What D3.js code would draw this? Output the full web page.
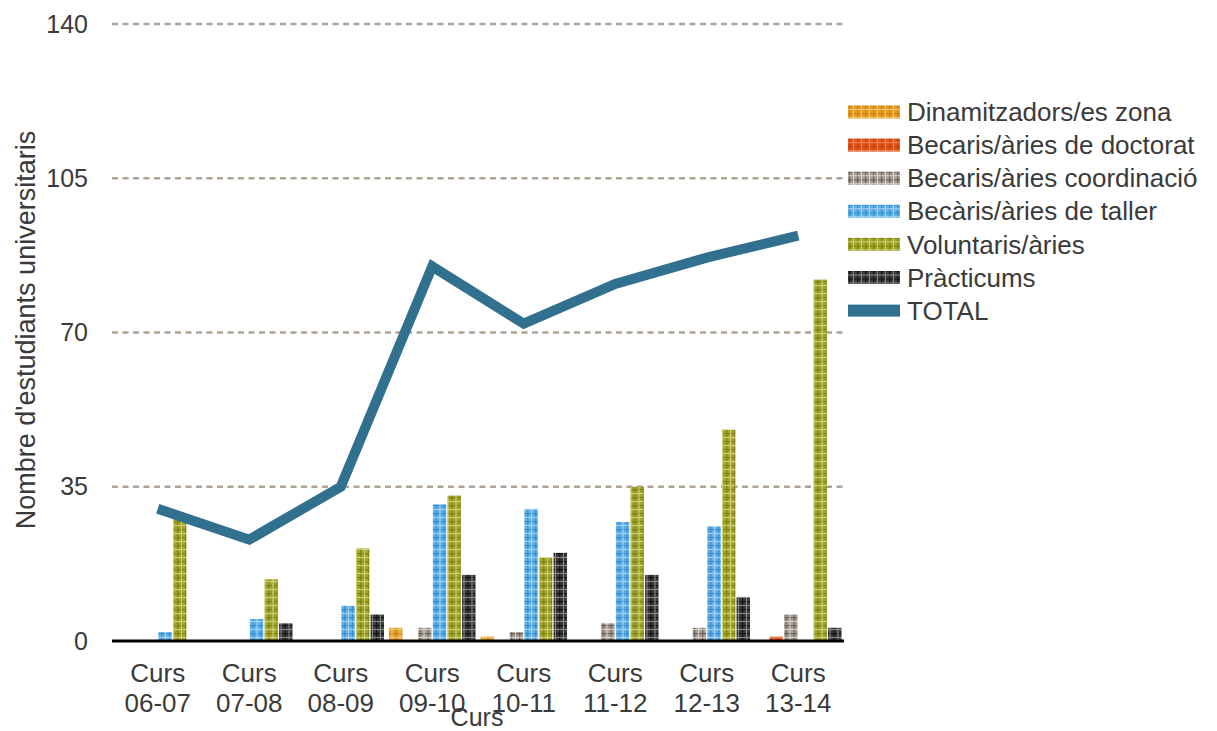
<!DOCTYPE html>
<html>
<head>
<meta charset="utf-8">
<script src="https://cdn.jsdelivr.net/npm/d3@7"></script>
<style>
    body { margin: 0; background: #fff; }
    svg text { font-family: "Liberation Sans", Arial, sans-serif; fill: #3a3a3a; }
</style>
</head>
<body>
<svg id="chart" width="1217" height="731"></svg>
<script>
var cursos = ["Curs 06-07", "Curs 07-08", "Curs 08-09", "Curs 09-10", "Curs 10-11", "Curs 11-12", "Curs 12-13", "Curs 13-14"];
var seriesNames = ["Dinamitzadors/es zona", "Becaris/àries de doctorat", "Becaris/àries coordinació", "Becàris/àries de taller", "Voluntaris/àries", "Pràcticums"];
var dinamitzadors = [0, 0, 0, 3, 1, 0, 0, 0];
var doctorat = [0, 0, 0, 0, 0, 0, 0, 1];
var coordinacio = [0, 0, 0, 3, 2, 4, 3, 6];
var taller = [2, 5, 8, 31, 30, 27, 26, 0];
var voluntaris = [28, 14, 21, 33, 19, 35, 48, 82];
var practicums = [0, 4, 6, 15, 20, 15, 10, 3];
var total = [30, 23, 35, 85, 72, 81, 87, 92];
var yTicks = [0, 35, 70, 105, 140];

var seriesValues = [dinamitzadors, doctorat, coordinacio, taller, voluntaris, practicums];
// base colour, line colour, light colour for the plaid texture
var seriesColors = [
    ["#e6a12a", "#c98410", "#f3c470"],
    ["#e2581c", "#c04010", "#f08a5a"],
    ["#a9a097", "#6e665e", "#d6d0ca"],
    ["#62b2e6", "#3590d6", "#a8d4f2"],
    ["#a4a832", "#82860e", "#cfd27a"],
    ["#3c3c3c", "#151515", "#8a8a8a"]
];
var totalColor = "#31708f";

var svg = d3.select("#chart");
var plotLeft = 112, plotRight = 844, plotTop = 24, plotBottom = 641;

var x0 = d3.scaleBand().domain(cursos).range([plotLeft, plotRight]).paddingInner(0).paddingOuter(0);
var x1 = d3.scaleBand().domain(d3.range(seriesNames.length)).range([2.5, x0.bandwidth() - 2.5]).paddingInner(0.08).paddingOuter(0);
var y = d3.scaleLinear().domain([0, 140]).range([plotBottom, plotTop]);

// plaid patterns
var defs = svg.append("defs");
seriesColors.forEach(function (c, i) {
    var p = defs.append("pattern").attr("id", "pat" + i)
        .attr("patternUnits", "userSpaceOnUse").attr("width", 8).attr("height", 8);
    p.append("rect").attr("width", 8).attr("height", 8).attr("fill", c[0]);
    p.append("rect").attr("x", 0).attr("y", 1).attr("width", 8).attr("height", 1.3).attr("fill", c[1]);
    p.append("rect").attr("x", 1).attr("y", 0).attr("width", 1.3).attr("height", 8).attr("fill", c[1]);
    p.append("rect").attr("x", 0).attr("y", 5).attr("width", 8).attr("height", 1).attr("fill", c[2]);
    p.append("rect").attr("x", 5).attr("y", 0).attr("width", 1).attr("height", 8).attr("fill", c[2]);
});

// gridlines
svg.append("g").selectAll("line")
    .data(yTicks.filter(function (d) { return d > 0; }))
    .enter().append("line")
    .attr("x1", plotLeft).attr("x2", plotRight)
    .attr("y1", function (d) { return y(d); }).attr("y2", function (d) { return y(d); })
    .attr("stroke", "#ada396").attr("stroke-width", 2.5).attr("stroke-dasharray", "6,4.5");

// y axis labels
var yAxis = svg.append("g").attr("transform", "translate(" + plotLeft + ",0)")
    .call(d3.axisLeft(y).tickValues(yTicks).tickSize(0).tickPadding(24));
yAxis.select(".domain").remove();
yAxis.selectAll("text").style("font-size", "25px").attr("fill", "#3a3a3a");

// bars
var groups = svg.append("g").selectAll("g")
    .data(cursos)
    .enter().append("g")
    .attr("transform", function (d) { return "translate(" + x0(d) + ",0)"; });

groups.selectAll("rect")
    .data(function (d, ci) {
        return seriesValues.map(function (vals, si) { return { s: si, v: vals[ci] }; });
    })
    .enter().append("rect")
    .attr("x", function (d) { return x1(d.s); })
    .attr("width", x1.bandwidth())
    .attr("y", function (d) { return y(d.v); })
    .attr("height", function (d) { return y(0) - y(d.v); })
    .attr("fill", function (d) { return "url(#pat" + d.s + ")"; });

// x axis line
svg.append("line").attr("x1", plotLeft).attr("x2", plotRight).attr("y1", plotBottom).attr("y2", plotBottom)
    .attr("stroke", "#000").attr("stroke-width", 3);

// x labels
var xl = svg.append("g").selectAll("text")
    .data(cursos)
    .enter().append("text")
    .attr("text-anchor", "middle")
    .style("font-size", "26px")
    .attr("x", function (d) { return x0(d) + x0.bandwidth() / 2; })
    .attr("y", 682);
xl.append("tspan").text(function (d) { return d.split(" ")[0]; });
xl.append("tspan").attr("x", function (d) { return x0(d) + x0.bandwidth() / 2; }).attr("dy", 30)
    .text(function (d) { return d.split(" ")[1]; });

// total line
var line = d3.line()
    .x(function (d, i) { return x0(cursos[i]) + x0.bandwidth() / 2; })
    .y(function (d) { return y(d); });
svg.append("path").datum(total)
    .attr("d", line)
    .attr("fill", "none")
    .attr("stroke", totalColor)
    .attr("stroke-width", 10)
    .attr("stroke-linejoin", "miter");

// axis titles
svg.append("text").attr("x", 477).attr("y", 726).attr("text-anchor", "middle")
    .style("font-size", "25px").text("Curs");
svg.append("text").attr("transform", "translate(35,330) rotate(-90)").attr("text-anchor", "middle")
    .style("font-size", "27px").text("Nombre d'estudiants universitaris");

// legend
var legend = svg.append("g").attr("transform", "translate(848,112)");
var items = legend.selectAll("g")
    .data(seriesNames.concat(["TOTAL"]))
    .enter().append("g")
    .attr("transform", function (d, i) { return "translate(0," + (i * 33.1) + ")"; });
items.append("rect")
    .attr("x", 0).attr("width", 52)
    .attr("y", function (d, i) { return i < 6 ? -6.5 : -6; })
    .attr("height", function (d, i) { return i < 6 ? 13 : 12; })
    .attr("fill", function (d, i) { return i < 6 ? "url(#pat" + i + ")" : totalColor; });
items.append("text")
    .attr("x", 59).attr("dy", "0.35em")
    .style("font-size", "26px")
    .text(function (d) { return d; });
</script>
</body>
</html>
